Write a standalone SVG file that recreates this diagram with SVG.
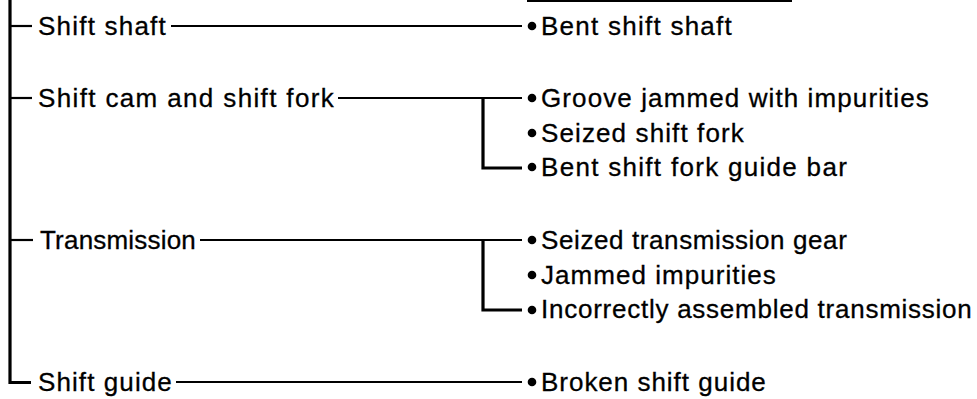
<svg xmlns="http://www.w3.org/2000/svg" width="977" height="399" viewBox="0 0 977 399">
<style>
.t{font-family:"Liberation Sans",Arial,Helvetica,sans-serif;font-size:26px;fill:#000;stroke:#000;stroke-width:0.3;letter-spacing:1.2px}
.ln{stroke:#000;stroke-width:2.2;fill:none}
.th{stroke:#000;stroke-width:3.2;fill:none}
.b{fill:#000}
</style>
<rect width="977" height="399" fill="#fff"/>
<g id="connectors">
<line class="ln" x1="527" y1="1" x2="792" y2="1" stroke-width="1.5"/>
<path class="th" d="M10 0 V382.5 H31"/>
<line class="ln" x1="10" y1="26" x2="32" y2="26"/>
<line class="ln" x1="10" y1="98" x2="32" y2="98"/>
<line class="ln" x1="10" y1="240" x2="33" y2="240"/>
<line class="ln" x1="171" y1="26" x2="522" y2="26"/>
<line class="ln" x1="338" y1="98" x2="522" y2="98"/>
<path class="th" d="M483 98 V168 H522"/>
<line class="ln" x1="200" y1="240" x2="522" y2="240"/>
<path class="th" d="M483 240 V310 H522"/>
<line class="ln" x1="176" y1="382" x2="522" y2="382"/>
</g>
<g id="shift-shaft"><text class="t" x="38" y="35" textLength="129">Shift shaft</text></g>
<g id="shift-cam"><text class="t" x="38" y="107" textLength="297">Shift cam and shift fork</text></g>
<g id="transmission"><text class="t" x="40" y="249" textLength="157">Transmission</text></g>
<g id="shift-guide"><text class="t" x="38" y="391" textLength="135">Shift guide</text></g>
<g id="bent-shift-shaft"><circle class="b" cx="532" cy="26" r="4.3"/><text class="t" x="541" y="35" textLength="192">Bent shift shaft</text></g>
<g id="groove"><circle class="b" cx="532" cy="98" r="4.3"/><text class="t" x="541" y="107" textLength="389">Groove jammed with impurities</text></g>
<g id="seized-fork"><circle class="b" cx="532" cy="133" r="4.3"/><text class="t" x="541" y="142" textLength="204">Seized shift fork</text></g>
<g id="bent-guide-bar"><circle class="b" cx="532" cy="167" r="4.3"/><text class="t" x="541" y="176" textLength="307">Bent shift fork guide bar</text></g>
<g id="seized-gear"><circle class="b" cx="532" cy="240" r="4.3"/><text class="t" x="541" y="249" textLength="307">Seized transmission gear</text></g>
<g id="jammed"><circle class="b" cx="532" cy="275" r="4.3"/><text class="t" x="541" y="284" textLength="236">Jammed impurities</text></g>
<g id="incorrect"><circle class="b" cx="532" cy="310" r="4.3"/><text class="t" x="541" y="318" textLength="432">Incorrectly assembled transmission</text></g>
<g id="broken-guide"><circle class="b" cx="532" cy="382" r="4.3"/><text class="t" x="541" y="391" textLength="226">Broken shift guide</text></g>
</svg>
